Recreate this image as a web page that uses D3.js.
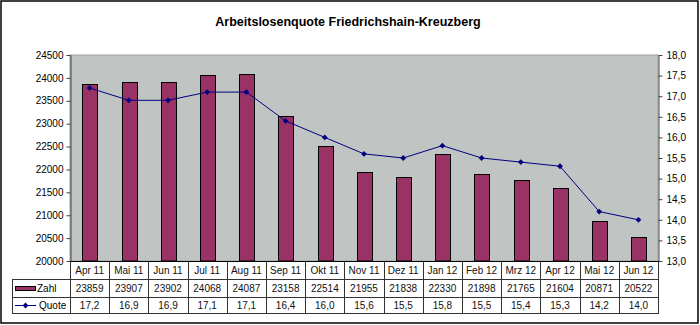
<!DOCTYPE html>
<html><head><meta charset="utf-8">
<script src="https://cdn.jsdelivr.net/npm/d3@7"></script>
<style>body{margin:0;background:#fff}svg{display:block}</style>
</head><body>
<script>
const categories = ["Apr 11","Mai 11","Jun 11","Jul 11","Aug 11","Sep 11","Okt 11","Nov 11","Dez 11","Jan 12","Feb 12","Mrz 12","Apr 12","Mai 12","Jun 12"];
const zahl = [23859,23907,23902,24068,24087,23158,22514,21955,21838,22330,21898,21765,21604,20871,20522];
const quote = [17.2,16.9,16.9,17.1,17.1,16.4,16.0,15.6,15.5,15.8,15.5,15.4,15.3,14.2,14.0];
const leftTicks = [20000,20500,21000,21500,22000,22500,23000,23500,24000,24500];
const rightTicks = [13.0,13.5,14.0,14.5,15.0,15.5,16.0,16.5,17.0,17.5,18.0];
const title = "Arbeitslosenquote Friedrichshain-Kreuzberg";

const W = 700, H = 325;
const L = 70, R = 658, T = 55, B = 261;
const rowH = [261, 279, 297, 313];
const legL = 12;
const font = "'Liberation Sans', Arial, sans-serif";

const svg = d3.select("body").append("svg").attr("width", W).attr("height", H)
  .style("font-family", font);

svg.append("rect").attr("x",1).attr("y",1).attr("width",697).attr("height",322)
  .attr("fill","#fff").attr("stroke","#000").attr("stroke-width",1.5);

svg.append("text").attr("x",348).attr("y",26).attr("text-anchor","middle")
  .attr("font-size",12.5).attr("font-weight","bold").text(title);

const x = d3.scaleBand().domain(categories).range([L, R]).paddingInner(0.63).paddingOuter(0.315);
const xc = d3.scaleBand().domain(categories).range([L, R]);
const yL = d3.scaleLinear().domain([20000, 24500]).range([B, T]);
const yR = d3.scaleLinear().domain([13, 18]).range([B, T]);

svg.append("rect").attr("x",L).attr("y",T).attr("width",R-L).attr("height",B-T)
  .attr("fill","#c0c4c3").attr("stroke","#a0a0a0").attr("stroke-width",1);

svg.append("g").selectAll("rect").data(zahl).join("rect")
  .attr("x",(d,i)=>Math.round(x(categories[i]))+0.5)
  .attr("y",d=>Math.round(yL(d))+0.5)
  .attr("width",Math.round(x.bandwidth()))
  .attr("height",d=>B-Math.round(yL(d))-0.5)
  .attr("fill","#993366").attr("stroke","#000").attr("stroke-width",1);

const marker = d3.symbol(d3.symbolSquare,17);
const line = d3.line().x((d,i)=>xc(categories[i])+xc.bandwidth()/2).y(d=>yR(d));
svg.append("path").datum(quote).attr("d",line).attr("fill","none")
  .attr("stroke","#000080").attr("stroke-width",1);
svg.append("g").selectAll("path").data(quote).join("path")
  .attr("transform",(d,i)=>`translate(${xc(categories[i])+xc.bandwidth()/2},${yR(d)}) rotate(45)`)
  .attr("d",marker).attr("fill","#000080");

const axL = d3.axisLeft(yL).tickValues(leftTicks).tickSize(4).tickSizeOuter(0).tickFormat(d3.format("d"));
const gL = svg.append("g").attr("transform",`translate(${L+0.5},0)`).call(axL);
const axR = d3.axisRight(yR).tickValues(rightTicks).tickSize(4).tickSizeOuter(0)
  .tickFormat(d=>d3.format(".1f")(d).replace(".",","));
const gR = svg.append("g").attr("transform",`translate(${R+0.5},0)`).call(axR);
[gL,gR].forEach(g=>{
  g.select(".domain").attr("stroke","#444");
  g.selectAll(".tick line").attr("stroke","#444");
  g.selectAll("text").attr("font-size",10).attr("font-family",font).attr("fill","#000");
});
gL.selectAll("text").attr("x",-7);
gR.selectAll("text").attr("x",8);

// data table
const tg = svg.append("g").attr("stroke","#333").attr("stroke-width",1);
rowH.forEach((y,i)=>{
  tg.append("line").attr("x1", i===0 ? L : legL).attr("x2",R+1).attr("y1",y+0.5).attr("y2",y+0.5);
});
const bounds = categories.map(c=>xc(c)).concat([R]);
bounds.forEach(bx=>{
  tg.append("line").attr("x1",Math.round(bx)+0.5).attr("x2",Math.round(bx)+0.5).attr("y1",rowH[0]).attr("y2",rowH[3]+0.5);
});
tg.append("line").attr("x1",legL+0.5).attr("x2",legL+0.5).attr("y1",rowH[1]).attr("y2",rowH[3]+0.5);
svg.append("line").attr("x1",L).attr("x2",R+1).attr("y1",B+0.5).attr("y2",B+0.5).attr("stroke","#000");

const tt = svg.append("g").attr("font-size",10).attr("text-anchor","middle").attr("fill","#111");
categories.forEach((c,i)=>{
  const cx = xc(c)+xc.bandwidth()/2;
  tt.append("text").attr("x",cx).attr("y",273.5).text(c);
  tt.append("text").attr("x",cx).attr("y",291.5).text(zahl[i]);
  tt.append("text").attr("x",cx).attr("y",308.5).text(d3.format(".1f")(quote[i]).replace(".",","));
});

// legend keys
svg.append("rect").attr("x",15.5).attr("y",286.5).attr("width",20).attr("height",4)
  .attr("fill","#993366").attr("stroke","#000").attr("stroke-width",1);
svg.append("text").attr("x",37).attr("y",292).attr("font-size",10).text("Zahl");
svg.append("line").attr("x1",15).attr("x2",36).attr("y1",305.5).attr("y2",305.5).attr("stroke","#000080");
svg.append("path").attr("transform","translate(25.5,305.5) rotate(45)").attr("d",marker).attr("fill","#000080");
svg.append("text").attr("x",39).attr("y",309).attr("font-size",10).text("Quote");
</script>
</body></html>
